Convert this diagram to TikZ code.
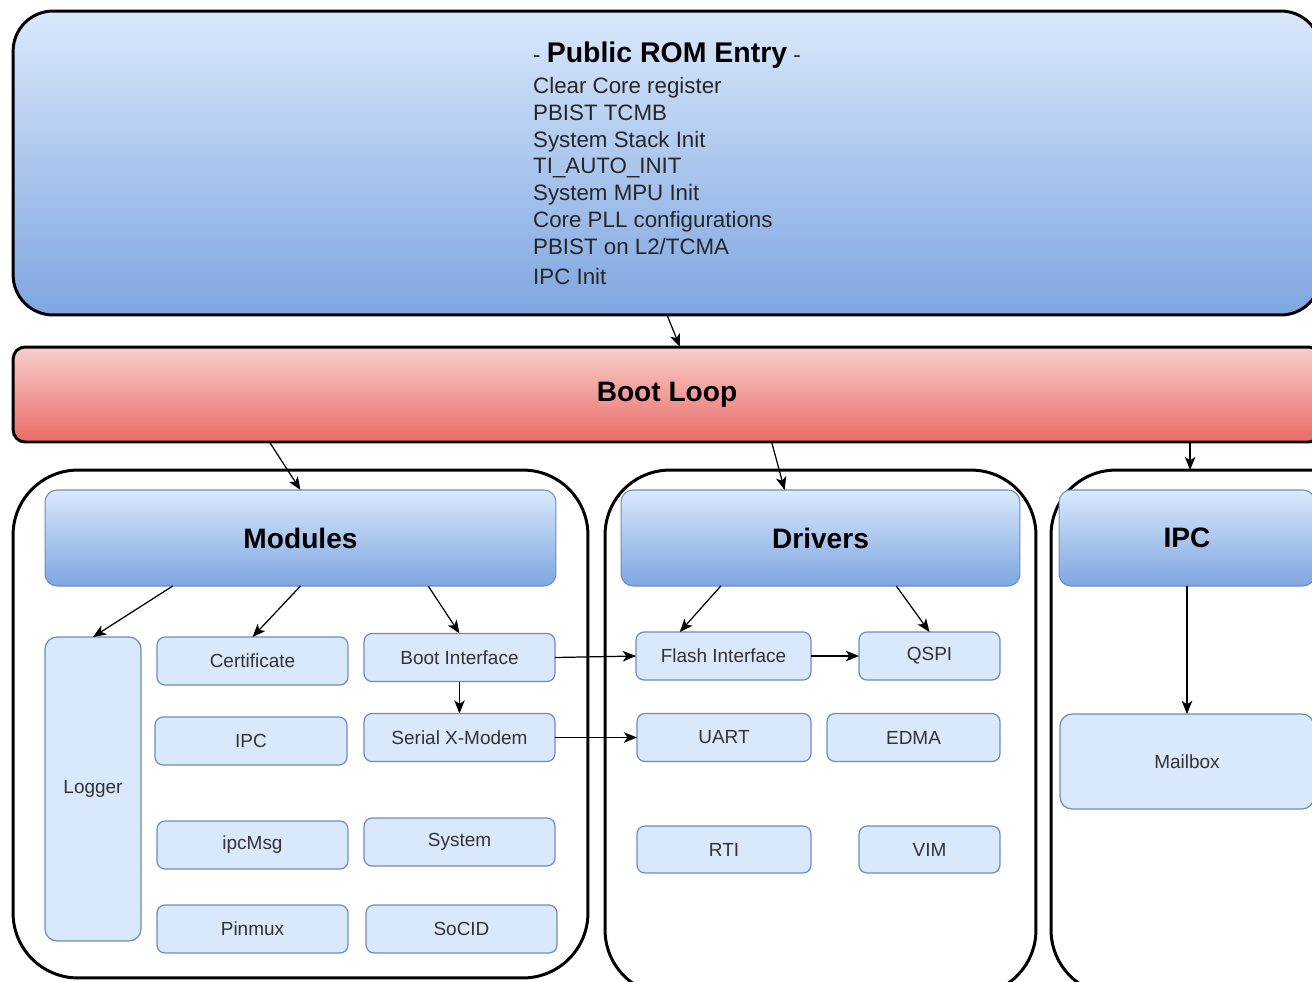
\documentclass[tikz,border=0pt]{standalone}
\usepackage{fontspec}
\setmainfont{Liberation Sans}
\usepackage{tikz}
\usetikzlibrary{arrows.meta,calc}
\usepackage{xcolor}
\definecolor{blueLite}{HTML}{DAE8FC}
\definecolor{blueDark}{HTML}{7EA6E0}
\definecolor{blueLine}{HTML}{6C8EBF}
\definecolor{redLite}{HTML}{F8CECC}
\definecolor{redDark}{HTML}{EA6B66}
\definecolor{txtGray}{HTML}{333333}

\begin{document}
\begin{tikzpicture}[x=0.02cm, y=-0.02cm,
  every node/.style={inner sep=0pt, outer sep=0pt},
  cont/.style={draw=black, line width=1.7pt, rounded corners=1.3cm, fill=white},
  hdr/.style={draw=blueLine, line width=0.6pt, rounded corners=0.24cm, top color=blueLite, bottom color=blueDark, minimum height=1.92cm, font=\fontsize{16}{19}\selectfont\bfseries},
  blk/.style={draw=blueLine, line width=0.7pt, rounded corners=0.16cm, fill=blueLite, minimum height=0.96cm, text=txtGray, font=\fontsize{10.8}{13}\selectfont},
  arr/.style={-{Stealth[length=7.5pt,width=6pt,inset=2pt]}, line width=0.7pt}]
\useasboundingbox (0,0) rectangle (1312,981);
\clip (0,0) rectangle (1312,981);

% === Public ROM entry ===
\node[draw=black, line width=1.7pt, rounded corners=0.8cm, top color=blueLite, bottom color=blueDark,
  minimum width=26.16cm, minimum height=6.08cm, align=left, text=black!85,
  font=\fontsize{12.7}{15.3}\selectfont] (rom) at (667,163)
  {- {\fontsize{16.2}{19}\selectfont\bfseries\color{black}Public ROM Entry} -\\[2.3pt]
   Clear Core register\\
   PBIST TCMB\\
   System Stack Init\\
   TI\_AUTO\_INIT\\
   System MPU Init\\
   Core PLL configurations\\
   PBIST on L2/TCMA\\[1.5pt]
   IPC Init};

% === Boot loop ===
\node[draw=black, line width=1.7pt, rounded corners=0.24cm, top color=redLite, bottom color=redDark,
  minimum width=26.16cm, minimum height=1.9cm, font=\fontsize{16}{19}\selectfont\bfseries] (boot) at (667,394.5) {Boot Loop};

% === Containers ===
\node[cont, minimum width=11.5cm, minimum height=10.16cm] (modc) at (300.5,724) {};
\node[cont, minimum width=8.62cm, minimum height=10.5cm] (drvc) at (820.5,732.5) {};
\node[cont, minimum width=6.58cm, minimum height=10.5cm] (ipcc) at (1215.5,732.5) {};

% === Modules ===
\node[hdr, minimum width=10.22cm] (modh) at (300.5,538) {Modules};
\node[blk, minimum width=1.92cm, minimum height=6.08cm, rounded corners=0.24cm] (logger) at (93,789) {Logger};
\node[blk, minimum width=3.82cm] (cert) at (252.5,661) {Certificate};
\node[blk, minimum width=3.82cm] (bootif) at (459.5,657.5) {Boot Interface};
\node[blk, minimum width=3.84cm] (ipcm) at (251,741) {IPC};
\node[blk, minimum width=3.82cm] (serial) at (459.5,737.5) {Serial X-Modem};
\node[blk, minimum width=3.82cm] (ipcmsg) at (252.5,845) {ipcMsg};
\node[blk, minimum width=3.82cm] (system) at (459.5,842) {System};
\node[blk, minimum width=3.82cm] (pinmux) at (252.5,929) {Pinmux};
\node[blk, minimum width=3.82cm] (socid) at (461.5,929) {SoCID};

% === Drivers ===
\node[hdr, minimum width=7.98cm] (drvh) at (820.5,538) {Drivers};
\node[blk, minimum width=3.5cm] (flash) at (723.5,656) {Flash Interface};
\node[blk, minimum width=2.82cm] (qspi) at (929.5,656) {QSPI};
\node[blk, minimum width=3.48cm] (uart) at (724,737.5) {UART};
\node[blk, minimum width=3.46cm] (edma) at (913.5,737.5) {EDMA};
\node[blk, minimum width=3.48cm, minimum height=0.94cm] (rti) at (724,849.5) {RTI};
\node[blk, minimum width=2.82cm, minimum height=0.94cm] (vim) at (929.5,849.5) {VIM};

% === IPC ===
\node[hdr, minimum width=5.12cm] (ipch) at (1187,538) {IPC};
\node[blk, minimum width=5.08cm, minimum height=1.9cm, rounded corners=0.24cm] (mailbox) at (1187,761.5) {Mailbox};

% === Arrows ===
\draw[arr] (rom.south) -- ($(boot.north)+(13,0)$);
\draw[arr] ($(boot.south west)!0.196!(boot.south east)$) -- (modh.north);
\draw[arr] ($(boot.south west)!0.58!(boot.south east)$) -- ($(drvh.north west)!0.41!(drvh.north east)$);
\coordinate (bipc) at ($(boot.south west)!0.9!(boot.south east)$);
\draw[arr] (bipc) -- (bipc |- ipcc.north);

\draw[arr] ($(modh.south west)!0.25!(modh.south east)$) -- (logger.north);
\draw[arr] (modh.south) -- (cert.north);
\draw[arr] ($(modh.south west)!0.75!(modh.south east)$) -- (bootif.north);
\draw[arr] (bootif.south) -- (serial.north);
\draw[arr] (bootif.east) -- (flash.west);
\draw[arr] (serial.east) -- (uart.west);

\draw[arr] ($(drvh.south west)!0.25!(drvh.south east)$) -- ($(flash.north west)!0.25!(flash.north east)$);
\draw[arr] ($(drvh.south west)!0.69!(drvh.south east)$) -- (qspi.north);
\draw[arr] (flash.east) -- (qspi.west);

\draw[arr] (ipch.south) -- (mailbox.north);
\end{tikzpicture}
\end{document}
